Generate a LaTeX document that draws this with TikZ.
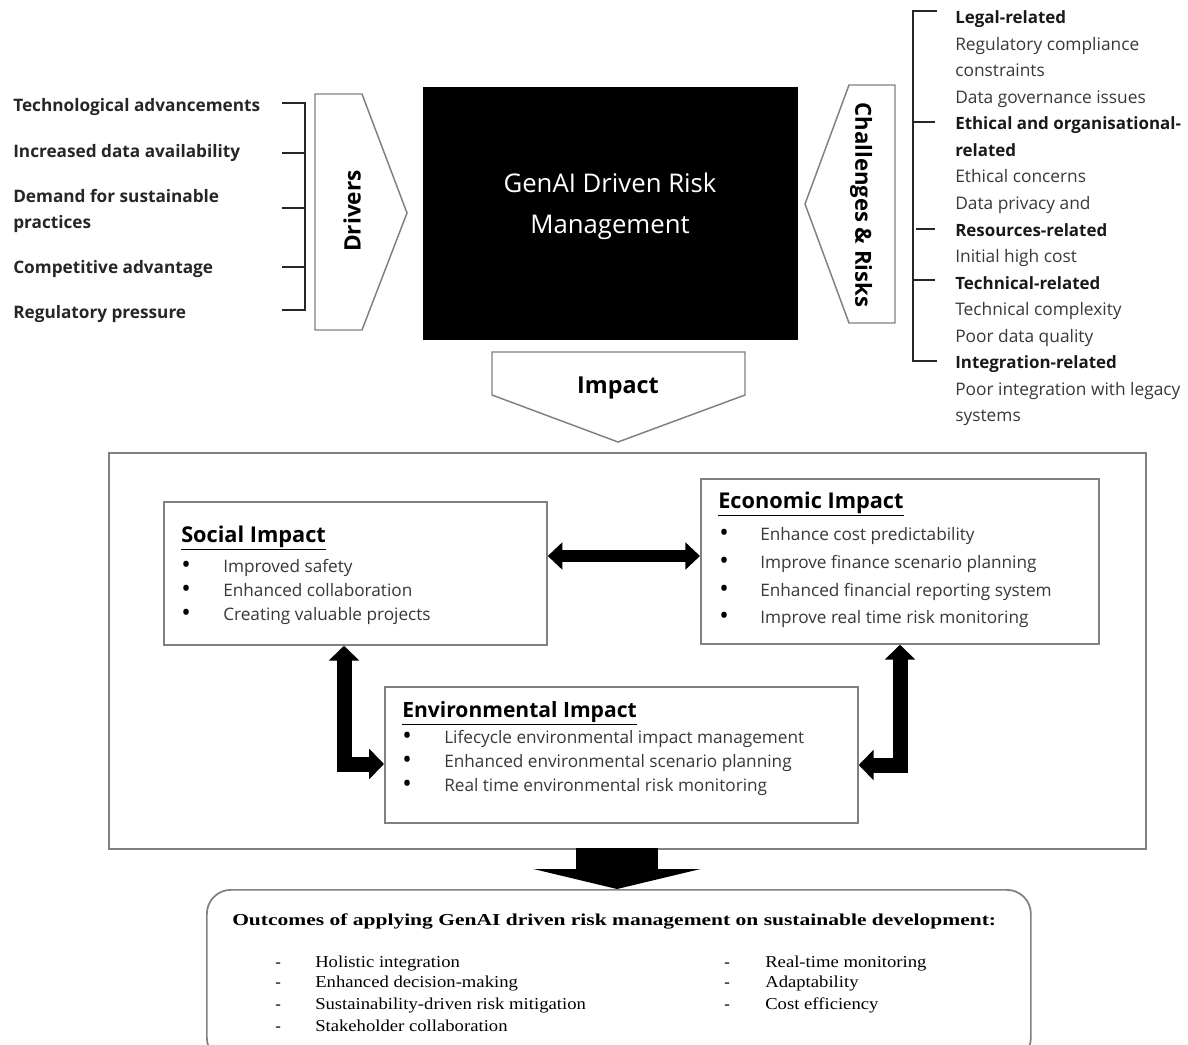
\documentclass[tikz,border=0pt]{standalone}
\usepackage{fontspec}
\setmainfont{Open Sans}
\newfontfamily\tnr{Liberation Serif}
\usetikzlibrary{arrows.meta,calc}
\definecolor{txtgray}{HTML}{383838}
\definecolor{boxgray}{HTML}{808080}
\tikzset{
  drv/.style={anchor=base west, inner sep=0pt, font=\fontsize{12.9}{15}\selectfont\bfseries, text=black!85},
  rhead/.style={anchor=base west, inner sep=0pt, font=\fontsize{12.7}{15}\selectfont\bfseries, text=black!90},
  ritem/.style={anchor=base west, inner sep=0pt, font=\fontsize{13}{15}\selectfont, text=txtgray},
  ttl/.style={anchor=base west, inner sep=0pt, font=\fontsize{16.3}{18}\selectfont\bfseries, text=black},
  itm/.style={anchor=base west, inner sep=0pt, font=\fontsize{12.9}{15}\selectfont, text=txtgray},
  bul/.style={anchor=base west, inner sep=0pt, font=\fontsize{19}{15}\selectfont, text=black},
  otl/.style={anchor=base west, inner sep=0pt, font=\tnr\fontsize{12.5}{14}\selectfont\bfseries, text=black},
  oit/.style={anchor=base west, inner sep=0pt, font=\tnr\fontsize{12.5}{14}\selectfont, text=black},
  garrow/.style={draw=boxgray, line width=1.1pt, line join=miter, fill=white},
  brk/.style={draw=black!85, line width=1pt},
  ibox/.style={draw=boxgray, line width=1.3pt, anchor=north west, inner sep=0pt},
  blk/.style={draw=black, line width=11.25pt, line join=miter},
  tip2/.style={{Triangle[width=22.5pt,length=11.25pt]}-{Triangle[width=22.5pt,length=11.25pt]}},
}
\newcommand\ostr[1]{\scalebox{1.12}[1]{#1}}
\begin{document}
\begin{tikzpicture}[x=0.75pt,y=-0.75pt]
\useasboundingbox (0,0) rectangle (1188,1045);

% ---------- Drivers ----------
\node[drv] (d1) at (13,112) {Technological advancements};
\node[drv] (d2) at (13,157) {Increased data availability};
\node[drv] (d3) at (13,202) {Demand for sustainable};
\node[drv] (d3b) at (13,228) {practices};
\node[drv] (d4) at (13,273) {Competitive advantage};
\node[drv] (d5) at (13,318) {Regulatory pressure};
\draw[brk] (282,103) -- (305,103) -- (305,310) -- (282,310);
\draw[brk] (282,153) -- (305,153);
\draw[brk] (282,208) -- (305,208);
\draw[brk] (282,267) -- (305,267);

\draw[garrow] (315,94) -- (362,94) -- (407,213) -- (362,330) -- (315,330) -- cycle;
\node[rotate=90, font=\fontsize{17}{19}\selectfont\bfseries] (drivers) at (352,211) {Drivers};

% ---------- Central box ----------
\node[fill=black, anchor=north west, inner sep=0pt, minimum width=375*0.75pt, minimum height=253*0.75pt] (gen) at (423,87) {};
\node[anchor=base, inner sep=0pt, text=white, font=\fontsize{19.3}{22}\selectfont] (gen1) at (610,192) {GenAI Driven Risk};
\node[anchor=base, inner sep=0pt, text=white, font=\fontsize{19.3}{22}\selectfont] (gen2) at (610,233) {Management};

% ---------- Challenges ----------
\draw[garrow] (849,85) -- (895,85) -- (895,323) -- (849,323) -- (805,204) -- cycle;
\node[rotate=-90, font=\fontsize{16.6}{19}\selectfont\bfseries] (chal) at (861,205) {Challenges \& Risks};

\draw[brk] (937,11) -- (913,11) -- (913,361) -- (937,361);
\draw[brk] (913,122) -- (935,122);
\draw[brk] (916,229) -- (935,229);
\draw[brk] (913,280) -- (935,280);

\node[rhead] (r1) at (955,24) {Legal-related};
\node[ritem] (r2) at (955,50.5) {Regulatory compliance};
\node[ritem] (r3) at (955,77) {constraints};
\node[ritem] (r4) at (955,103.5) {Data governance issues};
\node[rhead] (r5) at (955,130) {Ethical and organisational-};
\node[rhead] (r6) at (955,156.5) {related};
\node[ritem] (r7) at (955,183) {Ethical concerns};
\node[ritem] (r8) at (955,209.5) {Data privacy and};
\node[rhead] (r9) at (955,236) {Resources-related};
\node[ritem] (r10) at (955,262.5) {Initial high cost};
\node[rhead] (r11) at (955,289) {Technical-related};
\node[ritem] (r12) at (955,315.5) {Technical complexity};
\node[ritem] (r13) at (955,342) {Poor data quality};
\node[rhead] (r14) at (955,368.5) {Integration-related};
\node[ritem] (r15) at (955,395) {Poor integration with legacy};
\node[ritem] (r16) at (955,421.5) {systems};

% ---------- Impact arrow ----------
\draw[garrow] (492,352) -- (745,352) -- (745,395) -- (618,442) -- (492,395) -- cycle;
\node[anchor=base, inner sep=0pt, font=\fontsize{17.5}{19}\selectfont\bfseries] (imp) at (618,393) {Impact};

% ---------- Impact boxes ----------
\node[ibox, minimum width=1037*0.75pt, minimum height=396*0.75pt] (big) at (108,452) {};
\node[ibox, fill=white, minimum width=383*0.75pt, minimum height=143*0.75pt] (soc) at (163,501) {};
\node[ibox, fill=white, minimum width=398*0.75pt, minimum height=165*0.75pt] (eco) at (700,478) {};
\node[ibox, fill=white, minimum width=473*0.75pt, minimum height=136*0.75pt] (env) at (384,686) {};

\node[ttl] (socT) at (181,542) {\underline{Social Impact}};
\node[bul] (sb1) at (181,573) {\textbullet};
\node[itm] (s1) at (223,572) {Improved safety};
\node[bul] (sb2) at (181,597) {\textbullet};
\node[itm] (s2) at (223,596) {Enhanced collaboration};
\node[bul] (sb3) at (181,621) {\textbullet};
\node[itm] (s3) at (223,620) {Creating valuable projects};

\node[ttl] (ecoT) at (718,508) {\underline{Economic Impact}};
\node[bul] (eb1) at (719,541) {\textbullet};
\node[itm] (e1) at (760,540) {Enhance cost predictability};
\node[bul] (eb2) at (719,569) {\textbullet};
\node[itm] (e2) at (760,568) {Improve finance scenario planning};
\node[bul] (eb3) at (719,597) {\textbullet};
\node[itm] (e3) at (760,596) {Enhanced financial reporting system};
\node[bul] (eb4) at (719,624) {\textbullet};
\node[itm] (e4) at (760,623) {Improve real time risk monitoring};

\node[ttl, font=\fontsize{15.8}{18}\selectfont\bfseries] (envT) at (402,717) {\underline{Environmental Impact}};
\node[bul] (vb1) at (402,744) {\textbullet};
\node[itm] (v1) at (444,743) {Lifecycle environmental impact management};
\node[bul] (vb2) at (402,768) {\textbullet};
\node[itm] (v2) at (444,767) {Enhanced environmental scenario planning};
\node[bul] (vb3) at (402,792) {\textbullet};
\node[itm] (v3) at (444,791) {Real time environmental risk monitoring};

% ---------- Block arrows ----------
\coordinate (hy) at (0,556);
\coordinate (vx1) at (344,0);
\coordinate (hy2) at (0,764);
\coordinate (vx2) at (900,0);
\coordinate (hy3) at (0,765);
\coordinate (ax) at (617,0);

\draw[blk, line width=9pt, {Triangle[width=20pt,length=11pt]}-{Triangle[width=20pt,length=11pt]}] (soc.east |- hy) -- (eco.west |- hy);
\draw[blk, tip2] (soc.south -| vx1) |- (env.west |- hy2);
\draw[blk, tip2] (eco.south -| vx2) |- (env.east |- hy3);

% ---------- Outcomes ----------
\node[ibox, rounded corners=18pt, minimum width=824*0.75pt, minimum height=172*0.75pt] (out) at (206,889) {};
\draw[blk, line width=62pt, -{Triangle[width=125pt,length=15pt]}] ([yshift=1.5pt]big.south -| ax) -- (out.north -| ax);

\node[otl] (oT) at (232,925) {\scalebox{1.29}[1]{Outcomes of applying GenAI driven risk management on sustainable development:}};
\node[oit] (od1) at (275,967) {-};
\node[oit] (o1) at (315,967) {\ostr{Holistic integration}};
\node[oit] (od2) at (275,987) {-};
\node[oit] (o2) at (315,987) {\ostr{Enhanced decision-making}};
\node[oit] (od3) at (275,1009) {-};
\node[oit] (o3) at (315,1009) {\ostr{Sustainability-driven risk mitigation}};
\node[oit] (od4) at (275,1031) {-};
\node[oit] (o4) at (315,1031) {\ostr{Stakeholder collaboration}};
\node[oit] (od5) at (724,967) {-};
\node[oit] (o5) at (765,967) {\ostr{Real-time monitoring}};
\node[oit] (od6) at (724,987) {-};
\node[oit] (o6) at (765,987) {\ostr{Adaptability}};
\node[oit] (od7) at (724,1009) {-};
\node[oit] (o7) at (765,1009) {\ostr{Cost efficiency}};
\end{tikzpicture}
\end{document}
